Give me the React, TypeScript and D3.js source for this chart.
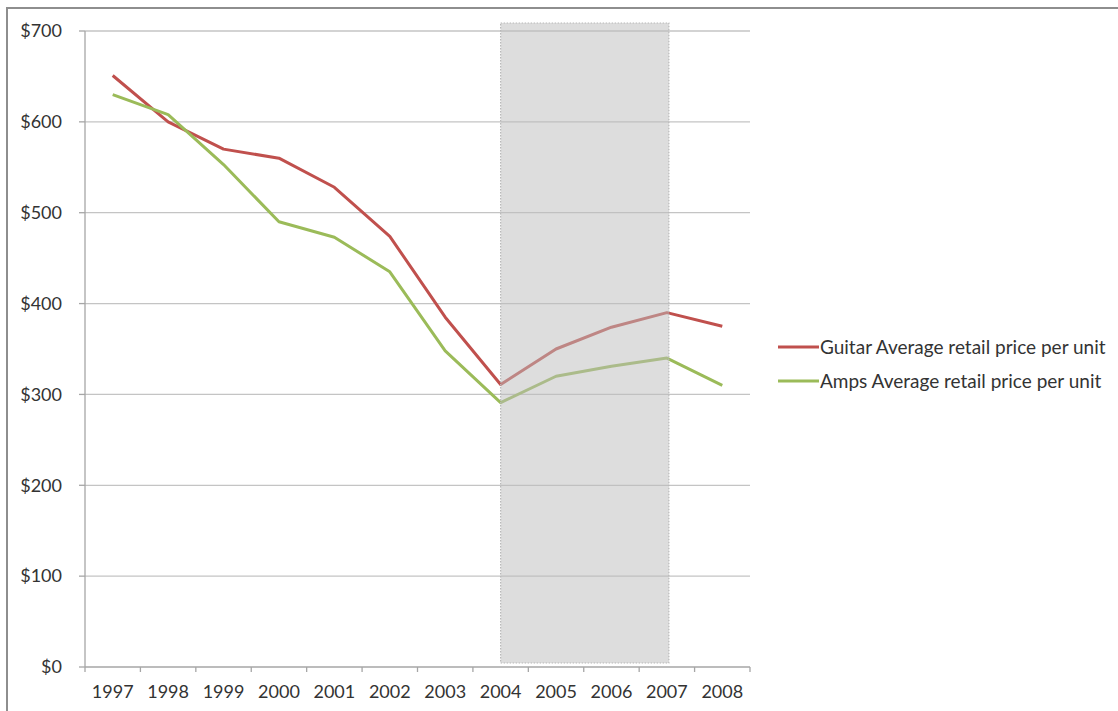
import React from 'react';
import * as d3 from 'd3';

const years = ['1997', '1998', '1999', '2000', '2001', '2002', '2003', '2004', '2005', '2006', '2007', '2008'];
const guitar = [651, 600, 570, 560, 528, 474, 385, 311, 350, 374, 390, 375];
const amps = [630, 608, 553, 490, 473, 435, 348, 291, 320, 331, 340, 310];
const yTicks = [0, 100, 200, 300, 400, 500, 600, 700];
const shadeFrom = '2004';
const shadeTo = '2007';

const series = [
  { name: 'Guitar Average retail price per unit', values: guitar, color: '#c0504d' },
  { name: 'Amps Average retail price per unit', values: amps, color: '#9bbb59' },
];

const font = 'Lato, "Open Sans", sans-serif';

export default function App() {
  const x = d3.scaleBand().domain(years).range([85, 750]);
  const y = d3.scaleLinear().domain([0, 700]).range([667, 31]);
  const cx = (d: string) => (x(d) as number) + x.bandwidth() / 2;

  const line = d3
    .line<number>()
    .x((_, i) => cx(years[i]))
    .y((v) => y(v));

  // shaded window, drawn over the lines
  const sx0 = cx(shadeFrom);
  const sx1 = cx(shadeTo) + 2;

  return (
    <svg width={1118} height={711} style={{ position: 'absolute', left: 0, top: 0 }}>
      <rect width={1118} height={711} fill="#fff" />
      {/* outer frame */}
      <path d="M7,711 V8 H1118" fill="none" stroke="#8e8e8e" strokeWidth={2} />

      {/* gridlines */}
      {yTicks.slice(1).map((t) => (
        <line key={t} x1={85} x2={750} y1={y(t)} y2={y(t)} stroke="#c4c4c4" strokeWidth={1.3} />
      ))}

      {/* axes */}
      <line x1={85} x2={85} y1={y(700)} y2={y(0)} stroke="#a6a6a6" strokeWidth={1.3} />
      <line x1={85} x2={750} y1={y(0)} y2={y(0)} stroke="#a6a6a6" strokeWidth={1.3} />
      {yTicks.map((t) => (
        <g key={t}>
          <line x1={79} x2={85} y1={y(t)} y2={y(t)} stroke="#a6a6a6" strokeWidth={1.3} />
          <text x={62} y={y(t)} dy="0.35em" textAnchor="end" fontFamily={font} fontSize={18} fill="#333">
            {'$' + t}
          </text>
        </g>
      ))}
      {years.map((yr) => (
        <line
          key={'t' + yr}
          x1={x(yr) as number}
          x2={x(yr) as number}
          y1={y(0)}
          y2={y(0) + 5}
          stroke="#a6a6a6"
          strokeWidth={1.3}
        />
      ))}
      <line x1={750} x2={750} y1={y(0)} y2={y(0) + 5} stroke="#a6a6a6" strokeWidth={1.3} />
      {years.map((yr) => (
        <text key={yr} x={cx(yr)} y={698} textAnchor="middle" fontFamily={font} fontSize={18} fill="#333">
          {yr}
        </text>
      ))}

      {/* series */}
      {series.map((s) => (
        <path key={s.name} d={line(s.values) as string} fill="none" stroke={s.color} strokeWidth={3} strokeLinejoin="round" />
      ))}

      {/* highlighted period */}
      <rect
        x={sx0}
        y={y(700) - 8}
        width={sx1 - sx0}
        height={y(0) - 4 - (y(700) - 8)}
        fill="#bcbcbc"
        fillOpacity={0.5}
        stroke="#b8b8b8"
        strokeWidth={1.2}
        strokeDasharray="1.5 1.5"
      />

      {/* legend */}
      {series.map((s, i) => (
        <g key={'l' + s.name} transform={`translate(778, ${347 + i * 34})`}>
          <line x1={0} x2={41} y1={0} y2={0} stroke={s.color} strokeWidth={3} />
          <text x={42} y={0} dy="0.35em" fontFamily={font} fontSize={19} fill="#333">
            {s.name}
          </text>
        </g>
      ))}
    </svg>
  );
}
